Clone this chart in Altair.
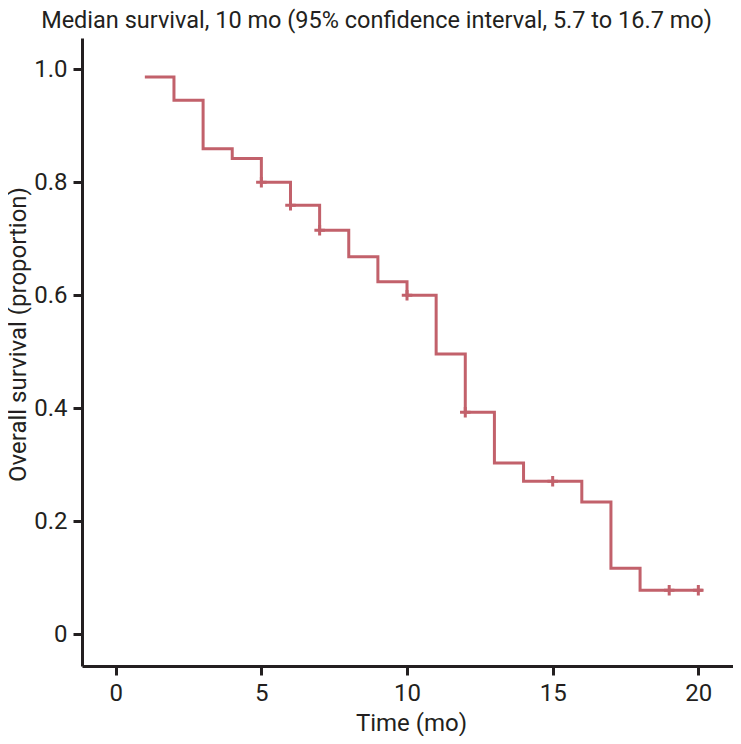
import altair as alt
import pandas as pd

# Kaplan-Meier step data (time in months, survival proportion)
step_time = [1, 2, 3, 4, 5, 6, 7, 8, 9, 10, 11, 12, 13, 14, 16, 17, 18, 20.15]
step_surv = [0.986, 0.945, 0.859, 0.842, 0.800, 0.759, 0.715, 0.668, 0.624,
             0.600, 0.496, 0.393, 0.303, 0.271, 0.234, 0.117, 0.078, 0.078]

# Censored observations
cens_time = [5, 6, 7, 10, 12, 15, 19, 20]
cens_surv = [0.800, 0.759, 0.715, 0.600, 0.393, 0.271, 0.078, 0.078]

x_ticks = [0, 5, 10, 15, 20]
y_ticks = [0, 0.2, 0.4, 0.6, 0.8, 1.0]

title_text = "Median survival, 10 mo (95% confidence interval, 5.7 to 16.7 mo)"

FONT = "Roboto"
LINE = "#c2616b"
AX = "#231f20"

steps = pd.DataFrame({"t": step_time, "s": step_surv})
cens = pd.DataFrame({"t": cens_time, "s": cens_surv})

xs = alt.Scale(domain=[-1.157, 21.19], nice=False, zero=False)
ys = alt.Scale(domain=[-0.056, 1.055], nice=False, zero=False)

xax = alt.Axis(values=x_ticks, title="Time (mo)", grid=False, format="d",
               titleY=64, titleX=329, titleBaseline="alphabetic")
yax = alt.Axis(values=y_ticks, title="Overall survival (proportion)", grid=False,
               labelExpr="datum.value == 0 ? '0' : format(datum.value, '.1f')",
               titleX=-57, titleY=296, titleAngle=-90, titleBaseline="alphabetic")

line = alt.Chart(steps).mark_line(interpolate="step-after", color=LINE, strokeWidth=3).encode(
    x=alt.X("t:Q", scale=xs, axis=xax),
    y=alt.Y("s:Q", scale=ys, axis=yax),
)

marks = alt.Chart(cens).mark_point(
    shape="M-1,0H1M0,-1V1", filled=False, color=LINE, strokeWidth=3, size=110, opacity=1
).encode(
    x=alt.X("t:Q", scale=xs),
    y=alt.Y("s:Q", scale=ys),
)

chart = alt.layer(line, marks).properties(
    width=651,
    height=628,
    background="white",
    autosize=alt.AutoSizeParams(type="none"),
    padding={"left": 74, "top": 30, "right": 0, "bottom": 70},
    title=alt.TitleParams(title_text, font=FONT, fontSize=23.5, fontWeight="normal",
                          color=AX, anchor="middle", dx=-31, offset=6),
).configure_view(stroke=None).configure_axis(
    domainColor=AX, domainWidth=3, tickColor=AX, tickWidth=3, tickSize=9,
    labelFont=FONT, labelFontSize=24, labelColor=AX, labelPadding=6,
    titleFont=FONT, titleFontSize=24, titleColor=AX, titleFontWeight="normal",
)

chart.save("out.html", embed_options={"renderer": "svg", "actions": False})
